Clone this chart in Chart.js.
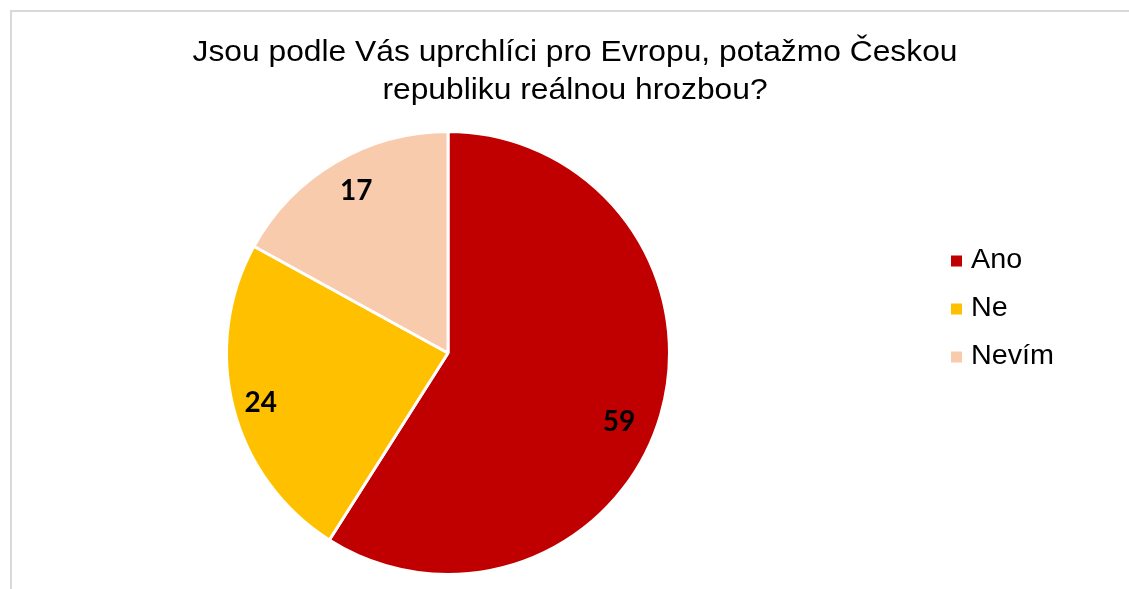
<!DOCTYPE html>
<html>
<head>
<meta charset="utf-8">
<script src="https://cdn.jsdelivr.net/npm/chart.js@4"></script>
<style>
  html, body { margin: 0; padding: 0; background: #fff; }
  #wrap { width: 1129px; height: 589px; position: relative; overflow: hidden; }
</style>
</head>
<body>
<div id="wrap"><canvas id="pie" width="1129" height="589"></canvas></div>
<script>
"use strict";
const TITLE = ["Jsou podle Vás uprchlíci pro Evropu, potažmo Českou", "republiku reálnou hrozbou?"];
const LABELS = ["Ano", "Ne", "Nevím"];
const VALUES = [59, 24, 17];
const COLORS = ["#C00000", "#FFC000", "#F8CBAD"];

// text stretched a bit wider, the source font runs wider than Liberation Sans
function wideText(g, t, x, y, sx, align) {
  const w = g.measureText(t).width * sx;
  const left = align === "center" ? x - w / 2 : x;
  g.save();
  g.translate(left, y);
  g.scale(sx, 1);
  g.textAlign = "left";
  g.fillText(t, 0, 0);
  g.restore();
}

// frame, title, legend and value labels are painted here
const decor = {
  id: "decor",
  beforeDraw(c) {
    const g = c.ctx;
    g.save();
    g.strokeStyle = "#d9d9d9";
    g.lineWidth = 2;
    g.strokeRect(11, 11, 1200, 700);
    g.restore();
  },
  afterDraw(c) {
    const g = c.ctx;
    g.save();
    g.fillStyle = "#000";
    g.textBaseline = "alphabetic";
    g.font = '29px "Liberation Sans", Arial, sans-serif';
    const sx = 765 / g.measureText(TITLE[0]).width;
    TITLE.forEach((t, i) => wideText(g, t, 575, 61 + i * 38, sx, "center"));

    // legend
    g.textBaseline = "middle";
    g.font = '27px "Liberation Sans", Arial, sans-serif';
    const lx = 83 / g.measureText("Nevím").width;
    LABELS.forEach((l, i) => {
      const y = 261 + i * 48;
      g.fillStyle = COLORS[i];
      g.fillRect(951, y - 5.5, 11, 11);
      g.fillStyle = "#000";
      wideText(g, l, 971, y, lx, "left");
    });

    // value labels, Excel "best fit" spots relative to the slice middle
    const arcs = c.getDatasetMeta(0).data;
    g.textAlign = "center";
    g.font = 'bold 28px Lato, "Open Sans", sans-serif';
    const frac = [0.83, 0.873, 0.85];
    const turn = [5.3, 0, 1.4];
    arcs.forEach((a, i) => {
      const p = a.getProps(["x", "y", "startAngle", "endAngle", "outerRadius"]);
      const m = (p.startAngle + p.endAngle) / 2 + turn[i] * Math.PI / 180;
      const r = p.outerRadius * frac[i];
      g.fillStyle = "#000";
      g.fillText(String(VALUES[i]), p.x + Math.cos(m) * r, p.y + Math.sin(m) * r + 2);
    });
    g.restore();
  }
};

new Chart(document.getElementById("pie"), {
  type: "pie",
  data: {
    labels: LABELS,
    datasets: [{ data: VALUES, backgroundColor: COLORS, borderColor: "#fff", borderWidth: 3 }]
  },
  options: {
    responsive: false,
    animation: false,
    layout: { padding: { left: 225, right: 458, top: 130, bottom: 13 } },
    plugins: { legend: { display: false }, title: { display: false }, tooltip: { enabled: false } }
  },
  plugins: [decor]
});
</script>
</body>
</html>
